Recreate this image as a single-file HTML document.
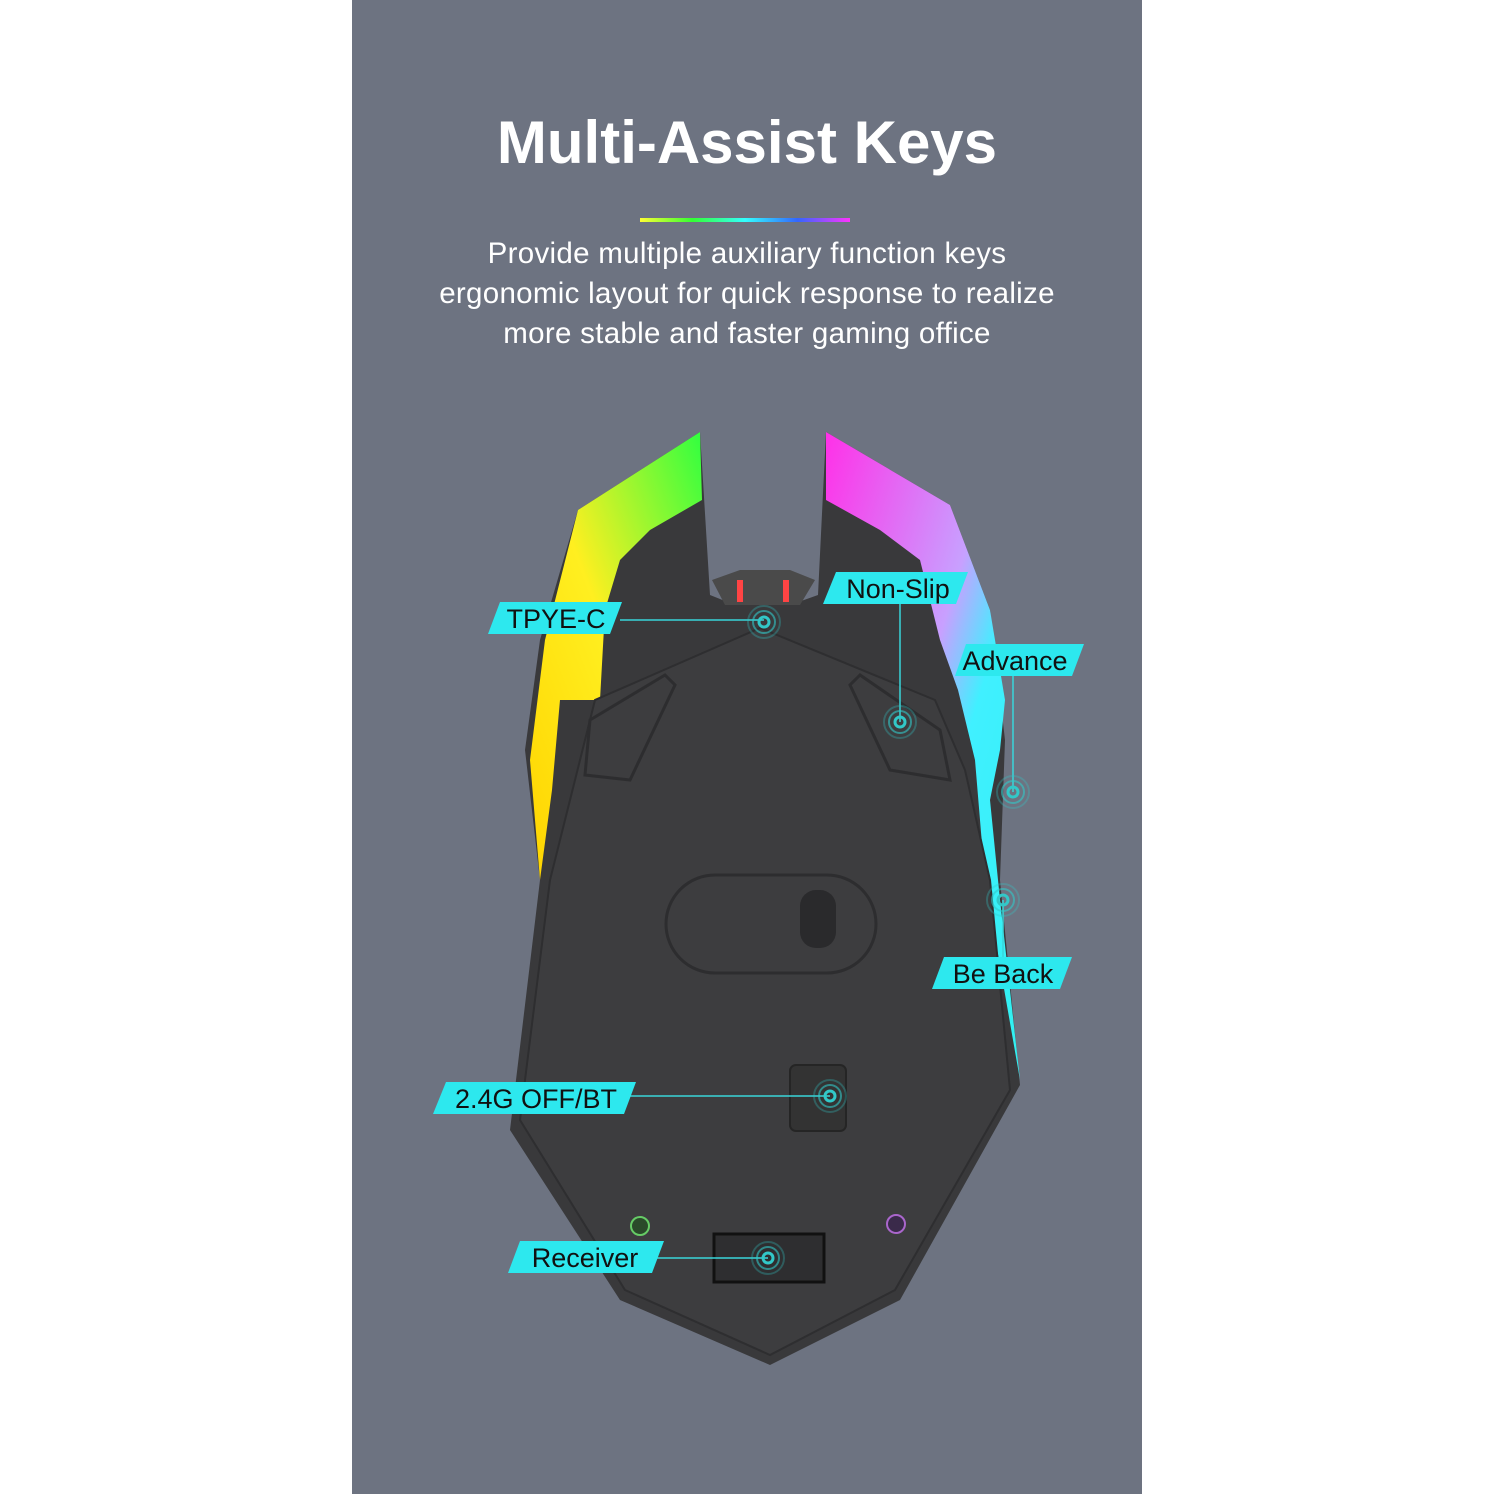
<!DOCTYPE html>
<html><head><meta charset="utf-8"><style>
html,body{margin:0;padding:0;background:#fff}
body{width:1494px;height:1494px;position:relative;overflow:hidden;font-family:"Liberation Sans",sans-serif}
.panel{position:absolute;left:352px;top:0;width:790px;height:1494px;background:#6d7381}
h1{position:absolute;left:352px;width:790px;top:108px;margin:0;text-align:center;color:#fff;font-size:60px;font-weight:bold}
.sub{position:absolute;left:352px;width:790px;top:234px;text-align:center;color:#fff;font-size:29.5px;line-height:40px;letter-spacing:0.3px}
</style></head><body>
<div class="panel"></div>
<h1>Multi-Assist Keys</h1>
<div class="sub">Provide multiple auxiliary function keys<br>ergonomic layout for quick response to realize<br>more stable and faster gaming office</div>
<svg width="1494" height="1494" style="position:absolute;left:0;top:0">
<defs>
<linearGradient id="rb" x1="0" x2="1"><stop offset="0" stop-color="#ff3"/><stop offset=".25" stop-color="#3f3"/><stop offset=".5" stop-color="#3ff"/><stop offset=".75" stop-color="#36f"/><stop offset="1" stop-color="#f3f"/></linearGradient>
<linearGradient id="lg" x1="0" y1="1" x2="1" y2="0"><stop offset="0" stop-color="#ffd400"/><stop offset=".5" stop-color="#ffef20"/><stop offset="1" stop-color="#30ff40"/></linearGradient>
<linearGradient id="rg" x1="0" y1="0" x2="1" y2="1"><stop offset="0" stop-color="#ff30e8"/><stop offset=".45" stop-color="#c8a0ff"/><stop offset=".6" stop-color="#40f0ff"/><stop offset="1" stop-color="#30f0f0"/></linearGradient>
</defs>
<rect x="640" y="218" width="210" height="4" fill="url(#rb)"/>
<polygon points="700,432 578,510 540,640 525,750 540,880 510,1130 620,1300 770,1365 900,1300 1020,1085 1000,880 1005,740 990,610 950,505 826,432 818,595 790,605 735,605 710,595" fill="#39393b"/>
<polygon points="700,432 578,510 545,640 530,760 540,880 552,790 560,700 600,700 605,610 620,560 650,530 702,500" fill="url(#lg)"/>
<polygon points="826,432 950,505 990,610 1005,700 1000,750 990,800 1000,900 1020,1080 985,880 975,760 958,690 940,640 920,560 880,530 826,500" fill="url(#rg)"/>
<polygon points="760,628 595,700 580,760 550,880 520,1120 625,1290 770,1355 895,1290 1010,1090 990,880 965,770 935,700" fill="#3d3d3f" stroke="#2e2e30" stroke-width="2"/>
<polygon points="665,675 675,685 630,780 585,775 590,720" fill="none" stroke="#2d2d2f" stroke-width="3"/>
<polygon points="860,675 850,685 890,770 950,780 940,730" fill="none" stroke="#2d2d2f" stroke-width="3"/>
<rect x="666" y="875" width="210" height="98" rx="49" fill="none" stroke="#2d2d2f" stroke-width="3"/>
<rect x="800" y="890" width="36" height="58" rx="16" fill="#2a2a2c"/>
<rect x="790" y="1065" width="56" height="66" rx="6" fill="#333" stroke="#252525" stroke-width="2"/>
<rect x="714" y="1234" width="110" height="48" fill="#2e2e30" stroke="#111" stroke-width="3"/>
<circle cx="640" cy="1226" r="9" fill="#2a4a2a" stroke="#6c6" stroke-width="2"/>
<circle cx="896" cy="1224" r="9" fill="#3a2a4a" stroke="#a6c" stroke-width="2"/>
<polygon points="712,580 740,570 790,570 815,580 800,605 725,605" fill="#4a4a4a"/>
<rect x="737" y="580" width="6" height="22" fill="#f44"/><rect x="783" y="580" width="6" height="22" fill="#f44"/>
<g stroke="#39d6da" stroke-width="1.5" fill="none">
<line x1="620" y1="620" x2="764" y2="620"/>
<line x1="900" y1="604" x2="900" y2="722"/>
<line x1="1013" y1="676" x2="1013" y2="792"/>
<line x1="1003" y1="900" x2="1003" y2="957"/>
<line x1="630" y1="1096" x2="830" y2="1096"/>
<line x1="655" y1="1258" x2="768" y2="1258"/>
</g>
<g fill="none" stroke="#32c8c8">
<circle cx="764" cy="622" r="5" stroke-width="3"/><circle cx="764" cy="622" r="11" stroke-width="2" opacity=".6"/><circle cx="764" cy="622" r="16" stroke-width="2" opacity=".3"/>
<circle cx="900" cy="722" r="5" stroke-width="3"/><circle cx="900" cy="722" r="11" stroke-width="2" opacity=".6"/><circle cx="900" cy="722" r="16" stroke-width="2" opacity=".3"/>
<circle cx="1013" cy="792" r="5" stroke-width="3"/><circle cx="1013" cy="792" r="11" stroke-width="2" opacity=".6"/><circle cx="1013" cy="792" r="16" stroke-width="2" opacity=".3"/>
<circle cx="1003" cy="900" r="5" stroke-width="3"/><circle cx="1003" cy="900" r="11" stroke-width="2" opacity=".6"/><circle cx="1003" cy="900" r="16" stroke-width="2" opacity=".3"/>
<circle cx="830" cy="1096" r="5" stroke-width="3"/><circle cx="830" cy="1096" r="11" stroke-width="2" opacity=".6"/><circle cx="830" cy="1096" r="16" stroke-width="2" opacity=".3"/>
<circle cx="768" cy="1258" r="5" stroke-width="3"/><circle cx="768" cy="1258" r="11" stroke-width="2" opacity=".6"/><circle cx="768" cy="1258" r="16" stroke-width="2" opacity=".3"/>
</g>
<g fill="#2de8ee">
<polygon points="500,602 622,602 610,634 488,634"/>
<polygon points="836,572 968,572 956,604 823,604"/>
<polygon points="966,644 1084,644 1072,676 955,676"/>
<polygon points="944,957 1072,957 1060,989 932,989"/>
<polygon points="446,1082 636,1082 624,1114 433,1114"/>
<polygon points="520,1241 664,1241 652,1273 508,1273"/>
</g>
<g font-family="Liberation Sans,sans-serif" font-size="27" fill="#111" text-anchor="middle">
<text x="556" y="628">TPYE-C</text>
<text x="898" y="598">Non-Slip</text>
<text x="1015" y="670">Advance</text>
<text x="1003" y="983">Be Back</text>
<text x="536" y="1108">2.4G OFF/BT</text>
<text x="585" y="1267">Receiver</text>
</g>
</svg>
</body></html>
